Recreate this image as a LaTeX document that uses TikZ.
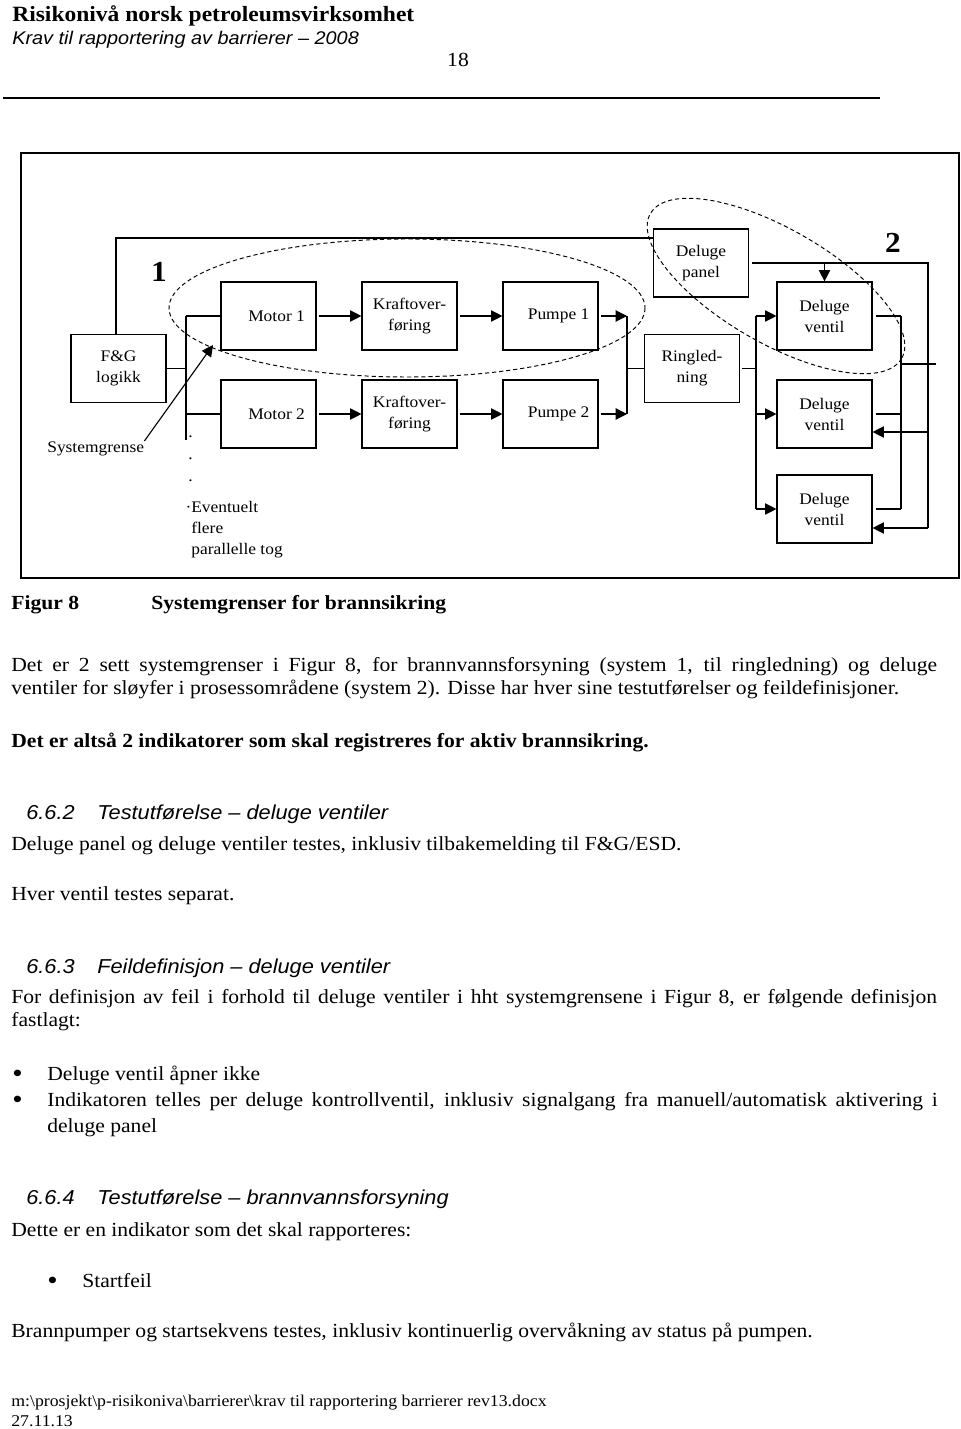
\documentclass[tikz,border=0pt]{standalone}
\usepackage{fontspec}
\setmainfont{Liberation Serif}[FakeStretch=1.08]
\newfontfamily\arialfont{Liberation Sans}[FakeStretch=1.08]
\usepackage{tikz}
\usetikzlibrary{arrows.meta, positioning, calc}

\begin{document}
\begin{tikzpicture}[
    x=0.62pt, y=-0.62pt,
    box/.style={rectangle, draw, line width=0.7pt, minimum width=58.9pt, minimum height=42.2pt, inner sep=1pt, align=center, font=\fontsize{10}{13}\selectfont},
    arrow/.style={line width=0.7pt, -{Triangle[length=7pt, width=7pt]}},
    link/.style={line width=0.7pt},
    bound/.style={dash pattern=on 2.6pt off 1.8pt, line width=0.6pt},
    txt/.style={inner sep=0pt, anchor=base west, font=\fontsize{12.4}{14.3}\selectfont},
    head/.style={inner sep=0pt, anchor=base west, font=\arialfont\itshape\fontsize{12.5}{14}\selectfont},
    lbl/.style={inner sep=0pt, anchor=base west, align=left, font=\fontsize{10}{13}\selectfont},
    num/.style={inner sep=0pt, font=\bfseries\fontsize{18}{20}\selectfont}
]

\fill[white] (0,0) rectangle (960,1429);
\useasboundingbox (0,0) rectangle (960,1429);

% Page header
\node[txt, font=\bfseries\fontsize{13.5}{15}\selectfont] (title) at (12,22) {Risikonivå norsk petroleumsvirksomhet};
\node[head, font=\arialfont\itshape\fontsize{11.4}{13}\selectfont] (subtitle) at (12,45) {Krav til rapportering av barrierer – 2008};
\node[txt, anchor=base] (pageno) at (458,67) {18};
\draw[line width=1.2pt] (3,98) -- (880,98);

% Figure frame
\draw[line width=1.2pt] (21,153) rectangle (959,578);

% System 1: fire water supply
\node[box] (fg) at (118.5,368.5) {F\&G\\logikk};
\node[box] (motorA) at (268.5,316) {\hspace*{10pt}Motor 1};
\node[box] (motorB) at (268.5,414) {\hspace*{10pt}Motor 2};
\node[box] (kraftA) at (409.5,316) {Kraftover-\\føring};
\node[box] (kraftB) at (409.5,414) {Kraftover-\\føring};
\node[box] (pumpA) at (550.5,316) {\hspace*{10pt}Pumpe 1};
\node[box] (pumpB) at (550.5,414) {\hspace*{10pt}Pumpe 2};
\node[box] (ring) at (692,368.5) {Ringled-\\ning};

% System 2: deluge
\node[box] (panel) at (701,263) {Deluge\\panel};
\node[box] (ventA) at (824.5,316) {Deluge\\ventil};
\node[box] (ventB) at (824.5,414) {Deluge\\ventil};
\node[box] (ventC) at (824.5,509) {Deluge\\ventil};

% Bus lines
\coordinate (fgtop) at (116,238);
\coordinate (busx) at (186,0);
\coordinate (busend) at (186,440);
\coordinate (pbus) at (627,0);
\coordinate (vbus) at (756,0);
\coordinate (fbus) at (928,0);
\coordinate (obus) at (901,0);
\coordinate (outend) at (936,364);
\coordinate (fbB) at ($(ventB.east)+(0,18)$);
\coordinate (fbC) at ($(ventC.east)+(0,19)$);

% F&G to panel and motors
\draw[link] (fg.north -| fgtop) -- (fgtop) -- (fgtop -| panel.west);
\draw[link] (fg.east) -- (fg.east -| busx);
\draw[link] (motorA.west -| busx) -- (busend);
\draw[link] (motorA.west -| busx) -- (motorA.west);
\draw[link] (motorB.west -| busx) -- (motorB.west);

% Train 1 and 2
\draw[arrow, shorten <=1.5pt] (motorA) -- (kraftA);
\draw[arrow, shorten <=1.5pt] (motorB) -- (kraftB);
\draw[arrow, shorten <=1.5pt] (kraftA) -- (pumpA);
\draw[arrow, shorten <=1.5pt] (kraftB) -- (pumpB);
\draw[arrow, shorten <=1.5pt] (pumpA.east) -- (pumpA.east -| pbus);
\draw[arrow, shorten <=1.5pt] (pumpB.east) -- (pumpB.east -| pbus);
\draw[link] (pumpA.east -| pbus) -- (pumpB.east -| pbus);
\draw[link] (ring.west -| pbus) -- (ring.west);

% Ring main to deluge valves
\draw[link, shorten <=1.5pt] (ring.east) -- (ring.east -| vbus);
\draw[link] (ventA.west -| vbus) -- (ventC.west -| vbus);
\draw[arrow] (ventA.west -| vbus) -- (ventA.west);
\draw[arrow] (ventB.west -| vbus) -- (ventB.west);
\draw[arrow] (ventC.west -| vbus) -- (ventC.west);

% Panel signals
\draw[link, shorten <=2pt] (panel.east) -- (panel.east -| fbus) -- (fbC -| fbus);
\draw[arrow] (ventA.north |- panel.east) -- (ventA.north);
\draw[arrow] (fbB -| fbus) -- (fbB);
\draw[arrow] (fbC -| fbus) -- (fbC);

% Valve outputs
\draw[link, shorten <=2pt] (ventA.east) -- (ventA.east -| obus);
\draw[link, shorten <=2pt] (ventB.east) -- (ventB.east -| obus);
\draw[link, shorten <=2pt] (ventC.east) -- (ventC.east -| obus);
\draw[link] (ventA.east -| obus) -- (ventC.east -| obus);
\draw[link] (outend -| obus) -- (outend);

% System boundaries
\draw[bound] (407,308) ellipse [x radius=238, y radius=69];
\draw[bound, rotate around={-30:(776,286)}] (776,286) ellipse [x radius=145, y radius=57];
\node[num] (sysA) at (159,272) {1};
\node[num] (sysB) at (893,243) {2};

\node[lbl] (grense) at (47,452) {Systemgrense};
\coordinate (grensetip) at (213,345);
\draw[arrow] (grense.north east) -- (grensetip);

\node[lbl, font=\fontsize{10}{13.6}\selectfont] (dots) at (188,481) {.\\.\\.};
\node[lbl] (tog) at (191,554) {\llap{·}Eventuelt\\flere\\parallelle tog};

% Caption
\node[txt, font=\bfseries\fontsize{12.4}{14}\selectfont] (figno) at (11,609) {Figur 8};
\node[txt, font=\bfseries\fontsize{12.4}{14}\selectfont] (figcap) at (151,609) {Systemgrenser for brannsikring};

% Body text
\node[txt] (parA1) at (11,671) {\makebox[574pt][s]{Det er 2 sett systemgrenser i Figur 8, for brannvannsforsyning (system 1, til ringledning) og deluge}};
\node[txt] (parA2) at (11,694) {ventiler for sløyfer i prosessområdene (system 2). Disse har hver sine testutførelser og feildefinisjoner.};
\node[txt, font=\bfseries\fontsize{12.4}{14}\selectfont] (parB) at (11,747) {Det er altså 2 indikatorer som skal registreres for aktiv brannsikring.};

\node[head] (secA) at (26,819) {6.6.2};
\node[head] (secAtitle) at (97,819) {Testutførelse – deluge ventiler};
\node[txt] (parC) at (11,850) {Deluge panel og deluge ventiler testes, inklusiv tilbakemelding til F\&G/ESD.};
\node[txt] (parD) at (11,900) {Hver ventil testes separat.};

\node[head] (secB) at (26,973) {6.6.3};
\node[head] (secBtitle) at (97,973) {Feildefinisjon – deluge ventiler};
\node[txt] (parE1) at (11,1003) {\makebox[574pt][s]{For definisjon av feil i forhold til deluge ventiler i hht systemgrensene i Figur 8, er følgende definisjon}};
\node[txt] (parE2) at (11,1026) {fastlagt:};
\node[txt, font=\fontsize{17}{17}\selectfont] (bulA) at (12,1082) {•};
\node[txt] (itemA) at (47,1080) {Deluge ventil åpner ikke};
\node[txt, font=\fontsize{17}{17}\selectfont] (bulB) at (12,1108) {•};
\node[txt] (itemB1) at (47,1106) {\makebox[552pt][s]{Indikatoren telles per deluge kontrollventil, inklusiv signalgang fra manuell/automatisk aktivering i}};
\node[txt] (itemB2) at (47,1132) {deluge panel};

\node[head] (secC) at (26,1204) {6.6.4};
\node[head] (secCtitle) at (97,1204) {Testutførelse – brannvannsforsyning};
\node[txt] (parF) at (11,1236) {Dette er en indikator som det skal rapporteres:};
\node[txt, font=\fontsize{17}{17}\selectfont] (bulC) at (47,1289) {•};
\node[txt] (itemC) at (82,1287) {Startfeil};
\node[txt] (parG) at (11,1337) {Brannpumper og startsekvens testes, inklusiv kontinuerlig overvåkning av status på pumpen.};

% Footer
\node[txt, font=\fontsize{10.2}{12}\selectfont] (pathline) at (11,1406) {m:\textbackslash prosjekt\textbackslash p-risikoniva\textbackslash barrierer\textbackslash krav til rapportering barrierer rev13.docx};
\node[txt, font=\fontsize{10.2}{12}\selectfont] (dateline) at (11,1426) {27.11.13};

\end{tikzpicture}
\end{document}
